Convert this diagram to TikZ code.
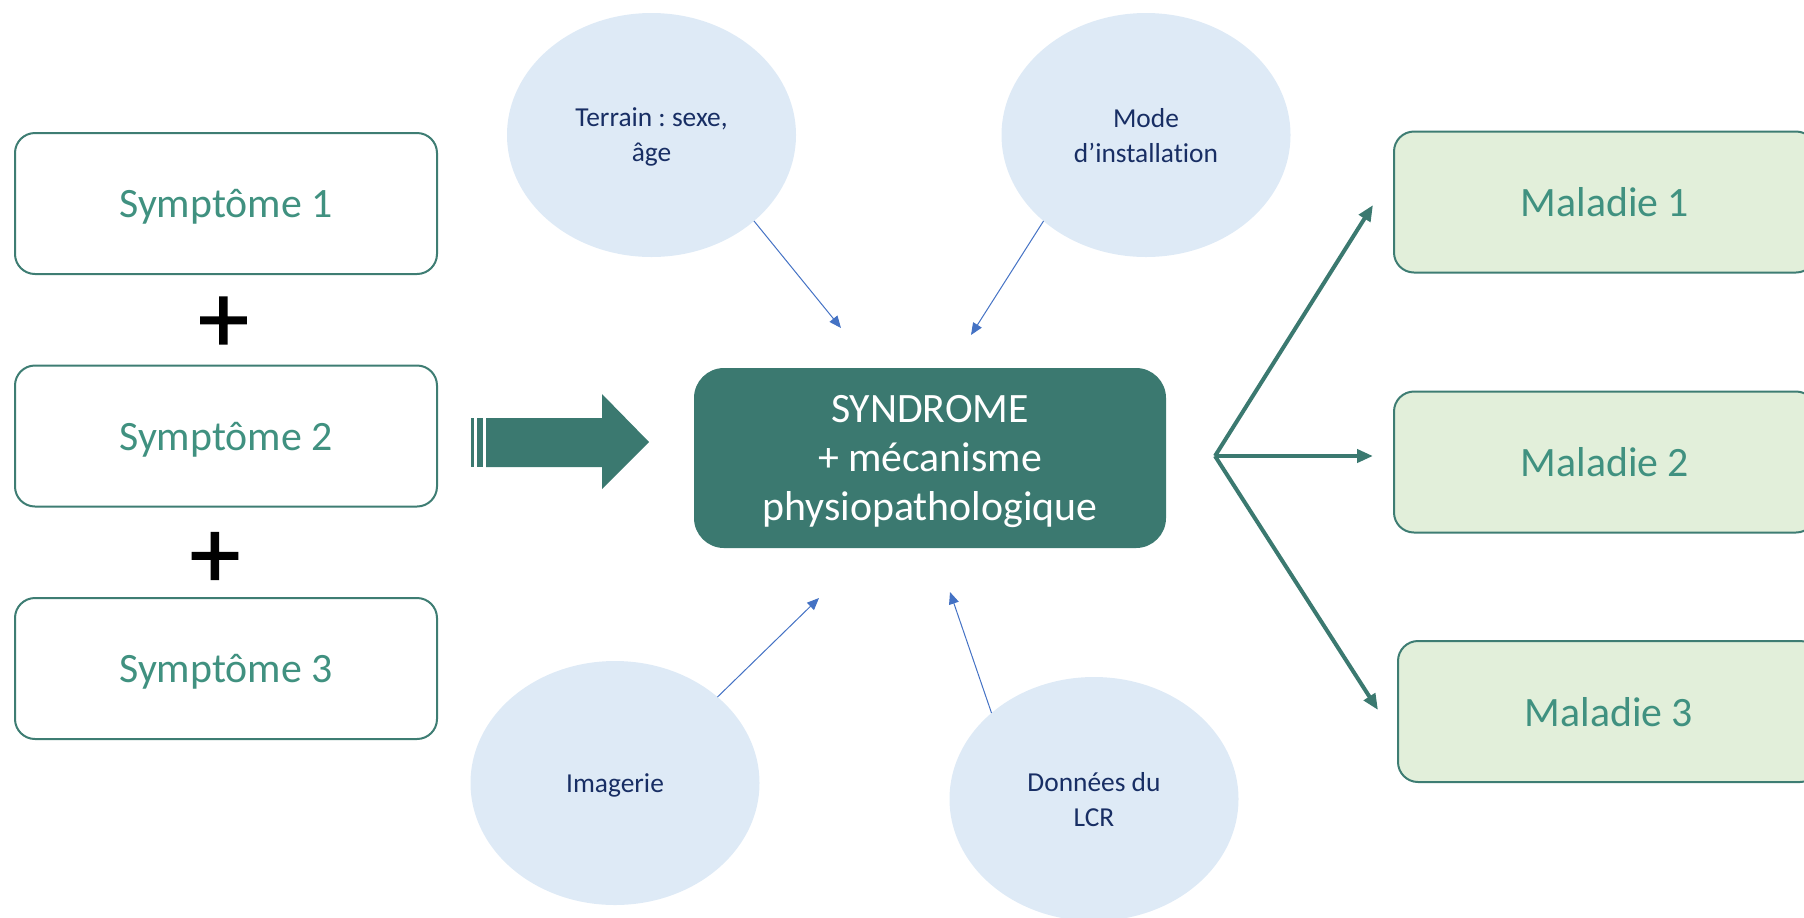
\documentclass[tikz,border=0pt]{standalone}
\usepackage{fontspec}
\setmainfont[Ligatures={NoCommon}]{Carlito}
\newfontfamily\plusfont[FakeBold=1.5]{Carlito}
\frenchspacing
\usetikzlibrary{arrows.meta,shapes.geometric}
\definecolor{tealdark}{RGB}{59,121,112}
\definecolor{tealtxt}{RGB}{64,145,128}
\definecolor{tealline}{RGB}{62,125,115}
\definecolor{greenfill}{RGB}{226,239,218}
\definecolor{bluefill}{RGB}{222,234,246}
\definecolor{navytxt}{RGB}{24,46,100}
\definecolor{bluearrow}{RGB}{68,114,196}
\begin{document}
\begin{tikzpicture}[x=0.5pt,y=-0.5pt,
  sympbox/.style={draw=tealline, line width=1pt, rounded corners=10pt, fill=white,
    minimum width=211pt, minimum height=70.5pt, inner sep=0pt, text=tealtxt,
    text depth=0pt, font=\fontsize{20.9pt}{25pt}\selectfont},
  malbox/.style={sympbox, fill=greenfill},
  infoell/.style={ellipse, fill=bluefill, minimum width=144.5pt, minimum height=122pt,
    inner sep=0pt, outer sep=0pt, text=navytxt, align=center, text depth=0pt,
    font=\fontsize{13.7pt}{17.5pt}\selectfont},
  centralbox/.style={fill=tealdark, rounded corners=15pt, minimum width=236pt,
    minimum height=90pt, inner sep=0pt, text=white, align=center, text depth=0pt,
    font=\fontsize{20.9pt}{24.5pt}\selectfont},
  thinarrow/.style={draw=bluearrow, line width=0.5pt, -{Triangle[length=6pt,width=5pt]}},
  thickarrow/.style={draw=tealdark, line width=2pt, -{Triangle[length=8pt,width=6.5pt]}},
  plussign/.style={font=\plusfont\fontsize{50pt}{50pt}\selectfont, inner sep=0pt, text=black}
]
\useasboundingbox (0,0) rectangle (1804,917);

% ellipses
\node[infoell] (terrain) at (651.5,135) {Terrain : sexe,\\âge};
\node[infoell] (mode) at (1146,135) {Mode\\d’installation};
\node[infoell] (imag) at (615,783) {Imagerie};
\node[infoell] (lcr) at (1094,799) {Données du\\LCR};

% symptom boxes
\node[sympbox] (s1) at (226,203.5) {Symptôme 1};
\node[sympbox] (s2) at (226,436) {Symptôme 2};
\node[sympbox] (s3) at (226,668.5) {Symptôme 3};
\node[plussign] (p1) at (223.5,324.5) {+};
\node[plussign] (p2) at (215,560) {+};

% central box
\node[centralbox] (synd) at (930,458) {SYNDROME\\+ mécanisme\\physiopathologique};

% disease boxes
\node[malbox] (m1) at (1605,202) {Maladie 1};
\node[malbox] (m2) at (1605,462) {Maladie 2};
\node[malbox] (m3) at (1609,711.5) {Maladie 3};

% big striped arrow
\fill[tealdark] (471,418) rectangle (474,467);
\fill[tealdark] (477,418) rectangle (483,467);
\fill[tealdark] (486,418) -- (602,418) -- (602,394) -- (649,442) -- (602,489) -- (602,467) -- (486,467) -- cycle;

% thin blue arrows
\coordinate (tEnd) at (841,328);
\coordinate (mEnd) at (971,335);
\coordinate (iEnd) at (819,598);
\coordinate (lEnd) at (950,592);
\draw[thinarrow] (terrain.-40) -- (tEnd);
\draw[thinarrow] (mode.220) -- (mEnd);
\draw[thinarrow] (imag.40) -- (iEnd);
\draw[thinarrow] (lcr.140) -- (lEnd);

% fork arrows
\coordinate (fork) at (1215,456);
\coordinate (f1) at (1373,205);
\coordinate (f2) at (1373,456);
\coordinate (f3) at (1378,710);
\draw[thickarrow] (fork) -- (f1);
\draw[thickarrow] (fork) -- (f2);
\draw[thickarrow] (fork) -- (f3);
\end{tikzpicture}
\end{document}
